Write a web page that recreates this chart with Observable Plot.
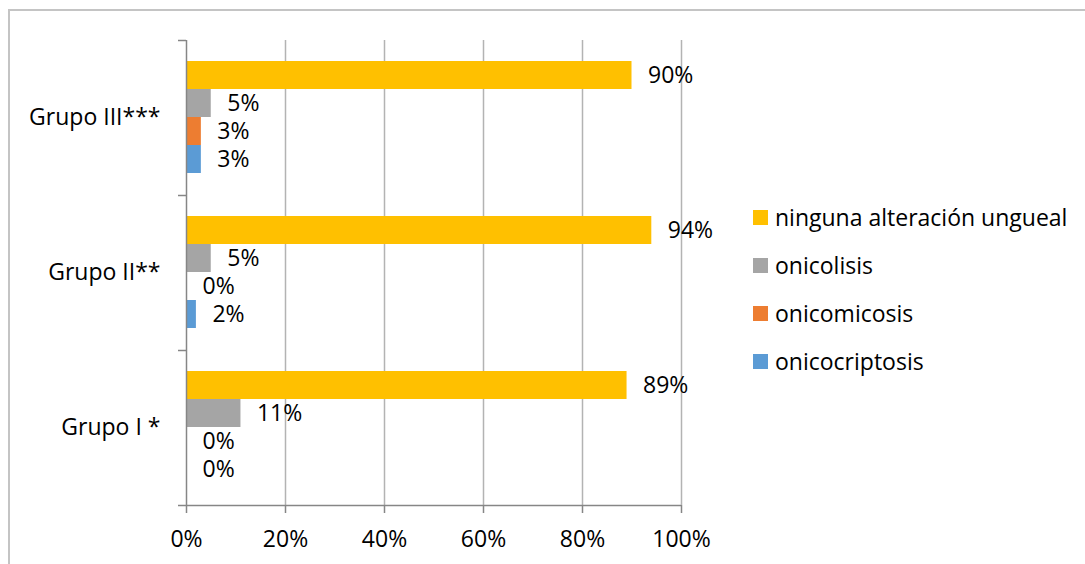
<!DOCTYPE html>
<html>
<head>
<meta charset="utf-8">
<script src="https://cdn.jsdelivr.net/npm/d3@7"></script>
<script src="https://cdn.jsdelivr.net/npm/@observablehq/plot@0.6"></script>
<style>
  html, body { margin: 0; padding: 0; background: #fff; }
  #wrap { position: relative; width: 1085px; height: 564px; overflow: hidden; font-family: "Open Sans", sans-serif; }
  #frame { position: absolute; left: 8px; top: 9px; width: 1200px; height: 700px; border-top: 2px solid #c4c4c4; border-left: 2px solid #c4c4c4; }
  #chart { position: absolute; left: 0; top: 0; }
  #legend { position: absolute; left: 753px; top: 193px; }
  .item { display: flex; align-items: center; height: 48px; font-size: 23px; color: #000; }
  .sw { width: 15px; height: 15px; margin-right: 7px; flex: none; }
</style>
</head>
<body>
<div id="wrap">
  <div id="frame"></div>
  <div id="chart"></div>
  <div id="legend"></div>
</div>
<script>
// Categories (bottom to top)
const groups = ["Grupo I *", "Grupo II**", "Grupo III***"];
// Series (top to bottom within each group)
const series = ["ninguna alteración ungueal", "onicolisis", "onicomicosis", "onicocriptosis"];
const colors = ["#FFC000", "#A5A5A5", "#ED7D31", "#5B9BD5"];
// Values per series, in groups order
const ninguna = [0.89, 0.94, 0.90];
const onicolisis = [0.11, 0.05, 0.05];
const onicomicosis = [0.00, 0.00, 0.03];
const onicocriptosis = [0.00, 0.02, 0.03];
const xTicks = [0, 0.2, 0.4, 0.6, 0.8, 1];

const seriesValues = [ninguna, onicolisis, onicomicosis, onicocriptosis];
const rows = groups.flatMap((g, gi) => series.map((s, si) => ({group: g, gi, series: s, si, value: seriesValues[si][gi]})));

const pad = 21 / 155, bh = 28 / 155;
const fmt = d3.format(".0%");
const axisColor = "#868686";
const gridColor = "#b3b3b3";

const chart = Plot.plot({
  width: 1085,
  height: 564,
  marginLeft: 186,
  marginRight: 404,
  marginTop: 40,
  marginBottom: 59,
  style: {fontFamily: "'Open Sans', sans-serif", fontSize: "23px", color: "#000", background: "transparent"},
  x: {domain: [0, 1]},
  y: {domain: [0, 3]},
  color: {domain: series, range: colors},
  marks: [
    Plot.ruleX(xTicks.slice(1), {y1: 0, y2: 3, stroke: gridColor, strokeWidth: 1.5}),
    Plot.rect(rows, {
      x1: 0, x2: "value",
      y1: d => d.gi + 1 - (pad + (d.si + 1) * bh),
      y2: d => d.gi + 1 - (pad + d.si * bh),
      fill: "series"
    }),
    Plot.ruleX([0], {y1: 0, y2: 3, stroke: axisColor, strokeWidth: 1.5}),
    Plot.ruleY([0], {x1: 0, x2: 1, stroke: axisColor, strokeWidth: 1.5}),
    Plot.axisX({ticks: xTicks, tickFormat: fmt, tickSize: 8, tickPadding: 17, stroke: axisColor, strokeWidth: 1.5, fontSize: 23, label: null}),
    Plot.axisY({ticks: [0, 1, 2, 3], tickSize: 8, tickFormat: () => "", stroke: axisColor, strokeWidth: 1.5, label: null}),
    Plot.text(groups, {x: 0, y: (d, i) => i + 0.5, text: d => d, textAnchor: "end", dx: -26, fontSize: 23, fill: "#000"}),
    Plot.text(rows, {
      x: "value",
      y: d => d.gi + 1 - (pad + (d.si + 0.5) * bh),
      text: d => fmt(d.value),
      textAnchor: "start", dx: 16, fontSize: 23, fill: "#000"
    })
  ]
});
document.getElementById("chart").appendChild(chart);

const legend = document.getElementById("legend");
series.forEach((s, i) => {
  const item = document.createElement("div");
  item.className = "item";
  const sw = document.createElement("span");
  sw.className = "sw";
  sw.style.background = colors[i];
  const t = document.createElement("span");
  t.textContent = s;
  item.appendChild(sw);
  item.appendChild(t);
  legend.appendChild(item);
});
</script>
</body>
</html>
